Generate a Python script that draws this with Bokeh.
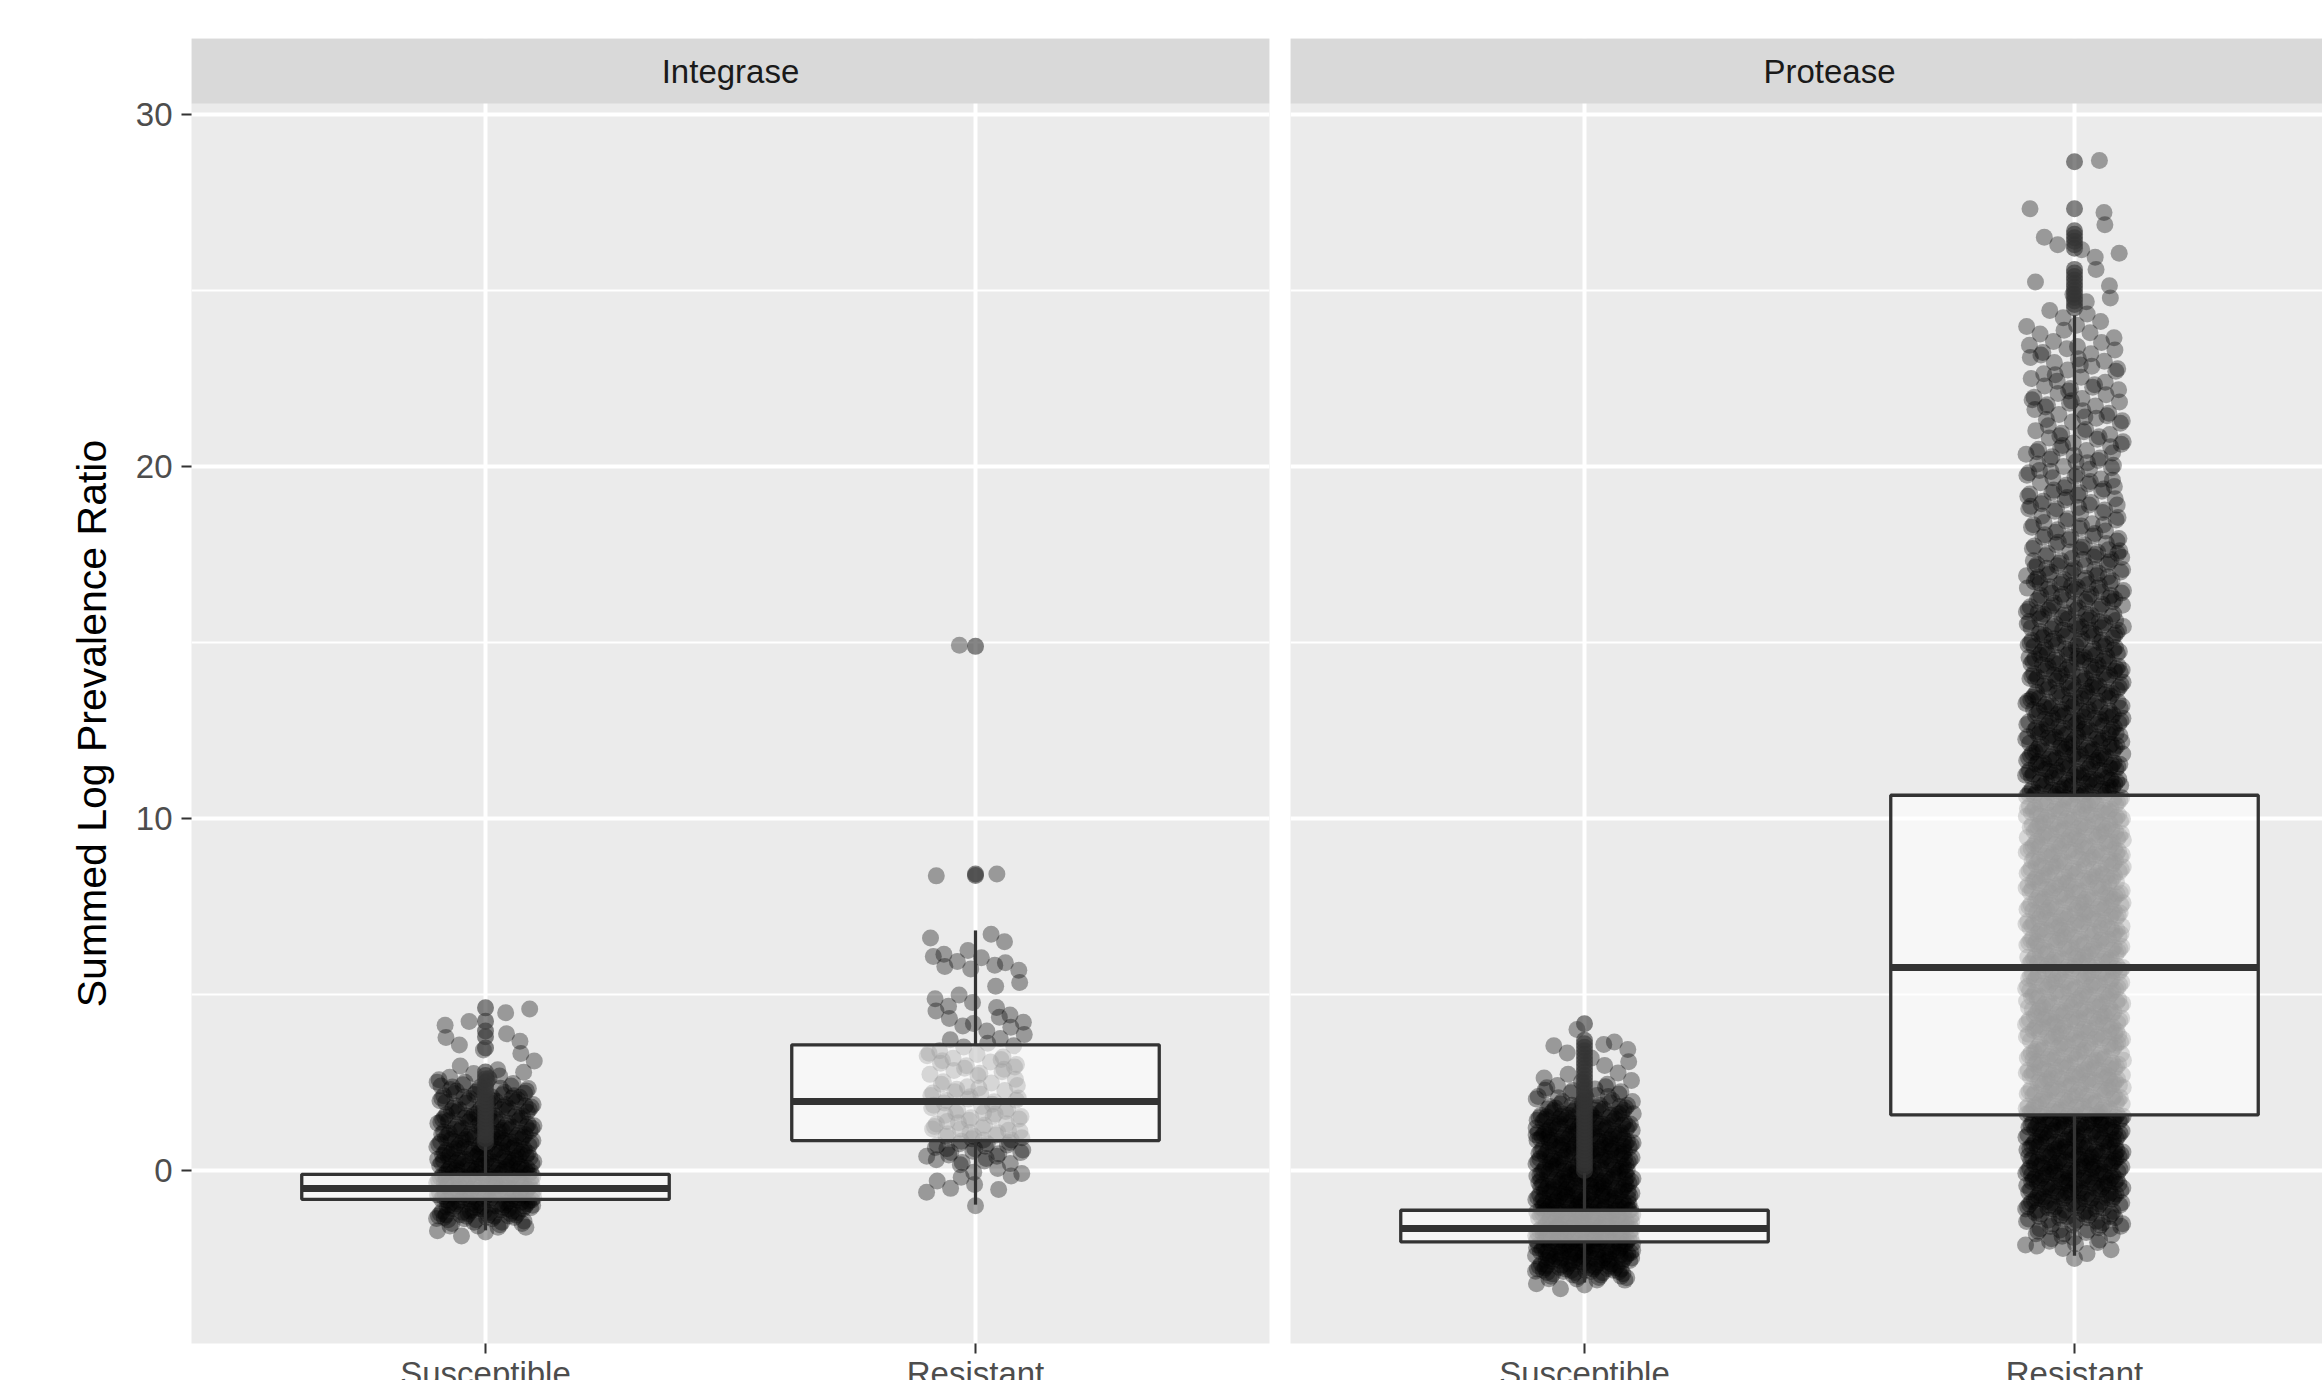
from bokeh.plotting import figure
from bokeh.models import Range1d, FixedTicker
from bokeh.layouts import row, column
from bokeh.embed import file_html
from bokeh.resources import INLINE
from bokeh.core.properties import value
import math

# ---------------- data ----------------
panels = ["Integrase", "Protease"]
categories = ["Susceptible", "Resistant"]
y_title = "Summed Log Prevalence Ratio"
y_ticks = [0, 10, 20, 30]
y_minor = [5, 15, 25]

# boxplot stats: [lower whisker, Q1, median, Q3, upper whisker]
int_sus_box = [-1.70, -0.82, -0.51, -0.11, 0.68]
int_res_box = [-0.97, 0.85, 1.96, 3.57, 6.82]
pro_sus_box = [-3.18, -2.03, -1.65, -1.13, -0.07]
pro_res_box = [-2.42, 1.58, 5.77, 10.66, 24.30]

# boxplot outliers (drawn on the category centre)
int_sus_out = [0.80, 0.90, 1.00, 1.10, 1.20, 1.30, 1.40, 1.50, 1.60, 1.70, 1.80,
               1.90, 2.00, 2.10, 2.20, 2.30, 2.40, 2.50, 2.60, 2.70, 2.80,
               3.48, 3.80, 3.96, 4.24, 4.62]
int_res_out = [8.38, 8.42, 14.89]
pro_sus_out = [0.00, 0.10, 0.20, 0.30, 0.40, 0.50, 0.60, 0.70, 0.80, 0.90, 1.00,
               1.10, 1.20, 1.30, 1.40, 1.50, 1.60, 1.70, 1.80, 1.90, 2.00, 2.10,
               2.20, 2.30, 2.40, 2.50, 2.60, 2.70, 2.80, 2.90, 3.00, 3.10, 3.20,
               3.30, 3.40, 3.50, 3.60, 3.70, 4.17]
pro_res_out = [24.50, 24.60, 24.70, 24.80, 24.90, 25.00, 25.10, 25.20, 25.30,
               25.40, 25.50, 25.60, 26.20, 26.30, 26.40, 26.50, 26.60, 26.70,
               27.32, 28.66]

# jittered observations: number of points in each 0.25-wide band, from *_start upward
band = 0.25
int_sus_start = -1.75
int_sus_counts = [3, 12, 24, 28, 30, 32, 32, 30, 28, 28, 26, 24, 22, 22, 20, 18,
                  14, 9, 5, 2, 1, 2, 2, 1, 2, 2]
int_sus_extra = []
int_res_start = -1.0
int_res_counts = [1, 0, 4, 3, 3, 6, 10, 10, 9, 9, 8, 8, 8, 7, 6, 6, 7, 6, 4, 3,
                  3, 4, 2, 3, 2, 2, 0, 4, 4, 2, 2, 1]
int_res_extra = [8.37, 8.42, 14.92]
pro_sus_start = -3.25
pro_sus_counts = [3, 16, 30, 34, 36, 36, 36, 36, 34, 34, 32, 32, 32, 32, 30, 30,
                  30, 30, 28, 26, 20, 12, 8, 5, 3, 2, 2, 3, 1, 1]
pro_sus_extra = []
pro_res_start = -2.5
pro_res_counts = [1, 4, 7, 10, 14, 18, 22, 24, 26, 28,
                  28, 28, 28, 28, 28, 28, 28,
                  24, 24, 23, 24, 25, 24, 24, 23, 24, 24, 25, 24,
                  24, 23, 24, 24, 24, 25, 24, 24, 23, 24, 24, 24,
                  24, 24, 25, 24, 23, 24, 24, 24, 24, 23, 24, 22,
                  24, 23, 22, 22, 21, 21, 20, 20, 20, 19, 19, 19, 18, 18, 18, 17,
                  17, 16, 16, 15, 15, 14,
                  14, 13, 13, 12, 11, 10, 9, 8, 8, 7, 8, 8, 8, 7, 7, 7, 7, 7, 6, 6,
                  6, 6, 6, 5, 6, 5, 5, 5, 5, 4, 4,
                  3, 2, 1, 2, 1, 2, 1, 0, 2, 2, 1, 1, 0, 2, 0, 0, 0, 0, 0, 1]
pro_res_extra = []

groups = {
    ("Integrase", "Susceptible"): (int_sus_box, int_sus_out, int_sus_start, int_sus_counts, int_sus_extra),
    ("Integrase", "Resistant"): (int_res_box, int_res_out, int_res_start, int_res_counts, int_res_extra),
    ("Protease", "Susceptible"): (pro_sus_box, pro_sus_out, pro_sus_start, pro_sus_counts, pro_sus_extra),
    ("Protease", "Resistant"): (pro_res_box, pro_res_out, pro_res_start, pro_res_counts, pro_res_extra),
}

# ---------------- layout / style ----------------
FONT = "Liberation Sans"
PAGE_W, PAGE_H = 2322, 1380
TITLE_W = 130                 # column holding the y-axis title
FRAME_W = 1078                # full facet width in px
UNIT = FRAME_W / 2.2          # px per category unit
LEFT_W = 1280 - TITLE_W
RIGHT_W = PAGE_W - 1280
LEFT_BORDER, MID_L, MID_R = 191 - TITLE_W, 11, 10
TOP = 38                      # white space above the facet strips
STRIP = 65                    # strip height
PANEL_TOP = TOP + STRIP       # 103
PANEL_BOTTOM = 1343
MAIN_H = 1356
LABEL_H = PAGE_H - MAIN_H
Y0, Y1 = -4.915, 30.3125      # panel y limits
PX = (PANEL_BOTTOM - PANEL_TOP) / (Y1 - Y0)
Y_TOP = Y0 + (PANEL_BOTTOM - TOP) / PX
BOX_W = 0.75
JIT = 0.1

R1, R2 = 0.7548776662466927, 0.5698402909980532
GOLD = 0.6180339887498949


def jitter_cloud(centre, start, counts, extra):
    xs, ys = [], []
    for li, n in enumerate(counts):
        base = start + li * band
        ox = (li * GOLD) % 1.0
        oy = (li * 0.4142135623730951) % 1.0
        for i in range(n):
            fx = (ox + 0.5 + i * R1) % 1.0
            fy = (oy + 0.5 + i * R2) % 1.0
            xs.append(centre + (2 * fx - 1) * JIT)
            ys.append(base + (fy - 0.5) * band)
    for k, v in enumerate(extra):
        fx = (0.1 + k * GOLD) % 1.0
        xs.append(centre + (2 * fx - 1) * JIT)
        ys.append(v)
    return xs, ys


x_left = Range1d(0.4, 2.6)
x_right = Range1d(0.4, 0.4 + (RIGHT_W - MID_R) / UNIT)
y_rng = Range1d(Y0, Y_TOP)

# y-axis title column
tfig = figure(width=TITLE_W, height=PAGE_H, x_range=Range1d(0, TITLE_W),
              y_range=Range1d(0, PAGE_H), output_backend="svg",
              toolbar_location=None, x_axis_location=None, y_axis_location=None,
              min_border=0, outline_line_color=None,
              background_fill_color="white", border_fill_color="white")
tfig.grid.visible = False
tfig.text(x=[91], y=[PAGE_H - (PANEL_TOP + PANEL_BOTTOM) / 2], text=[y_title],
          angle=math.pi / 2, text_align="center", text_baseline="middle",
          text_font=value(FONT), text_font_size=value("41px"), text_color="black")

mains, labels = [], []
for pi, name in enumerate(panels):
    first = pi == 0
    xr = x_left if first else x_right
    w = LEFT_W if first else RIGHT_W
    bl = LEFT_BORDER if first else MID_R
    br = MID_L if first else 0

    p = figure(width=w, height=MAIN_H, x_range=xr, y_range=y_rng,
               output_backend="svg", toolbar_location=None,
               y_axis_location="left" if first else None,
               min_border_left=bl, min_border_right=br,
               min_border_top=TOP, min_border_bottom=MAIN_H - PANEL_BOTTOM,
               background_fill_color="#ebebeb", border_fill_color="white",
               outline_line_color=None)

    p.xgrid.ticker = FixedTicker(ticks=[1, 2])
    p.xgrid.grid_line_color = "white"
    p.xgrid.grid_line_width = 4
    p.ygrid.ticker = FixedTicker(ticks=y_ticks, minor_ticks=y_minor)
    p.ygrid.grid_line_color = "white"
    p.ygrid.grid_line_width = 4
    p.ygrid.minor_grid_line_color = "white"
    p.ygrid.minor_grid_line_width = 2

    xa = p.xaxis[0]
    xa.ticker = FixedTicker(ticks=[1, 2])
    xa.major_label_text_color = None
    xa.major_label_text_font_size = "1px"
    xa.major_label_standoff = 0
    xa.major_tick_out = 10
    xa.major_tick_in = 0
    xa.major_tick_line_color = "#333333"
    xa.major_tick_line_width = 2
    xa.minor_tick_line_color = None
    xa.axis_line_color = None

    if first:
        ya = p.yaxis[0]
        ya.ticker = FixedTicker(ticks=y_ticks, minor_ticks=y_minor)
        ya.major_label_text_font = FONT
        ya.major_label_text_font_size = "33px"
        ya.major_label_text_color = "#4d4d4d"
        ya.major_label_standoff = 9
        ya.major_tick_out = 10
        ya.major_tick_in = 0
        ya.major_tick_line_color = "#333333"
        ya.major_tick_line_width = 2
        ya.minor_tick_line_color = None
        ya.axis_line_color = None

    # facet strip (top band of the frame, above the panel limits)
    p.quad(left=[xr.start], right=[xr.end], bottom=[Y1], top=[Y_TOP],
           fill_color="#d9d9d9", line_color=None)
    p.text(x=[(1 + len(categories)) / 2],
           y=[Y0 + (PANEL_BOTTOM - (TOP + STRIP / 2)) / PX], text=[name],
           text_align="center", text_baseline="middle",
           text_font=value(FONT), text_font_size=value("33px"),
           text_color="#1a1a1a")

    for ci, cat in enumerate(categories):
        c = ci + 1
        box, outs, start, counts, extra = groups[(name, cat)]
        lo, q1, med, q3, hi = box
        xs, ys = jitter_cloud(c, start, counts, extra)
        p.scatter(xs, ys, size=17, fill_color="black", fill_alpha=0.35,
                  line_color=None)
        p.scatter([c] * len(outs), outs, size=17, fill_color="#333333",
                  fill_alpha=0.6, line_color=None)
        p.segment(x0=[c, c], y0=[q3, q1], x1=[c, c], y1=[hi, lo],
                  line_color="#333333", line_width=3.3)
        p.vbar(x=[c], width=BOX_W, bottom=[q1], top=[q3],
               fill_color="white", fill_alpha=0.6,
               line_color="#333333", line_width=3.3)
        p.segment(x0=[c - BOX_W / 2], y0=[med], x1=[c + BOX_W / 2], y1=[med],
                  line_color="#333333", line_width=7)
    mains.append(p)

    # category labels under the ticks (cut by the page edge, as in the reference)
    lab = figure(width=w, height=LABEL_H, x_range=xr, y_range=Range1d(0, LABEL_H),
                 output_backend="svg", toolbar_location=None,
                 x_axis_location=None, y_axis_location=None,
                 min_border_left=bl, min_border_right=br,
                 min_border_top=0, min_border_bottom=0,
                 background_fill_color="white", border_fill_color="white",
                 outline_line_color=None)
    lab.grid.visible = False
    lab.text(x=[i + 1 for i in range(len(categories))],
             y=[PAGE_H - 1373] * len(categories), text=categories,
             text_align="center", text_baseline="middle",
             text_font=value(FONT), text_font_size=value("33px"),
             text_color="#4d4d4d")
    labels.append(lab)

layout = row(tfig, column(row(*mains), row(*labels)))

open("out.html", "w").write(file_html(layout, INLINE))
